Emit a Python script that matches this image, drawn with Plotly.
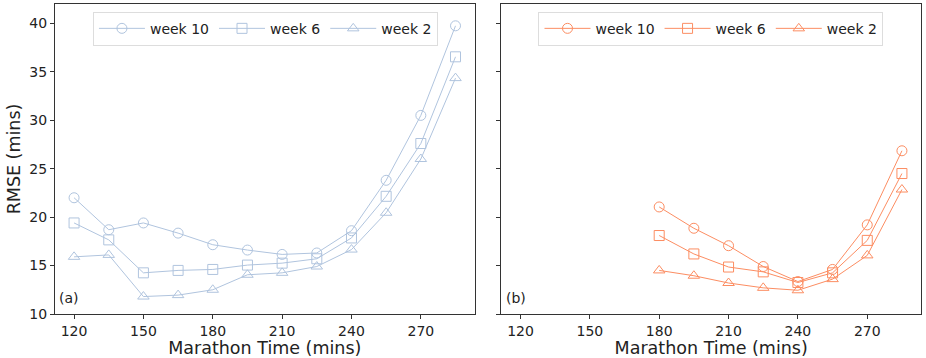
import plotly.graph_objects as go
from plotly.subplots import make_subplots

x_a = [120, 135, 150, 165, 180, 195, 210, 225, 240, 255, 270, 285]
a_week10 = [22.0, 18.7, 19.4, 18.35, 17.15, 16.6, 16.15, 16.3, 18.6, 23.8, 30.5, 39.75]
a_week6 = [19.4, 17.65, 14.25, 14.5, 14.6, 15.05, 15.25, 15.7, 17.85, 22.15, 27.6, 36.55]
a_week2 = [15.9, 16.1, 11.8, 11.95, 12.5, 14.05, 14.25, 14.9, 16.65, 20.45, 26.0, 34.35]

x_b = [180, 195, 210, 225, 240, 255, 270, 285]
b_week10 = [21.05, 18.85, 17.05, 14.9, 13.35, 14.6, 19.2, 26.85]
b_week6 = [18.1, 16.2, 14.85, 14.35, 13.25, 14.25, 17.6, 24.5]
b_week2 = [14.5, 13.95, 13.2, 12.7, 12.45, 13.6, 16.05, 22.85]

series_names = ["week 10", "week 6", "week 2"]
x_ticks = [120, 150, 180, 210, 240, 270]
y_ticks = [10, 15, 20, 25, 30, 35, 40]

blue = "#b0c4de"
orange = "#fc8d62"
symbols = ["circle-open", "square-open", "triangle-up-open"]
font = "DejaVu Sans"

fig = make_subplots(rows=1, cols=2, shared_yaxes=False, horizontal_spacing=0.031)

for name, ys, sym in zip(series_names, [a_week10, a_week6, a_week2], symbols):
    fig.add_trace(go.Scatter(x=x_a, y=ys, name=name, mode="lines+markers",
                             line=dict(color=blue, width=1),
                             marker=dict(symbol=sym, size=10, color=blue, line=dict(width=1, color=blue)),
                             legend="legend"), row=1, col=1)
for name, ys, sym in zip(series_names, [b_week10, b_week6, b_week2], symbols):
    fig.add_trace(go.Scatter(x=x_b, y=ys, name=name, mode="lines+markers",
                             line=dict(color=orange, width=1),
                             marker=dict(symbol=sym, size=10, color=orange, line=dict(width=1, color=orange)),
                             legend="legend2"), row=1, col=2)

axcommon = dict(showline=True, linecolor="#333333", linewidth=1, mirror=True, ticks="outside",
                ticklen=4, tickcolor="#333333", showgrid=False, zeroline=False,
                tickfont=dict(family=font, size=14, color="#222222"))
fig.update_xaxes(range=[111.75, 293.25], tickvals=x_ticks,
                 title=dict(text="Marathon Time (mins)", font=dict(family=font, size=17.5, color="#222222"), standoff=0),
                 **axcommon)
fig.update_yaxes(range=[10, 42], tickvals=y_ticks, **axcommon)
fig.update_yaxes(title=dict(text="RMSE (mins)", font=dict(family=font, size=17.5, color="#222222"), standoff=4), row=1, col=1)
fig.update_yaxes(showticklabels=False, row=1, col=2)

legcommon = dict(orientation="h", xanchor="center", yanchor="top", y=0.975,
                 bordercolor="#dddddd", borderwidth=1, bgcolor="rgba(255,255,255,0.8)",
                 font=dict(family=font, size=14, color="#222222"), itemwidth=46)
fig.update_layout(
    width=926, height=358,
    margin=dict(l=55, r=5, t=4, b=44),
    plot_bgcolor="white", paper_bgcolor="white",
    legend=dict(x=0.243, **legcommon),
    legend2=dict(x=0.7575, **legcommon),
    font=dict(family=font),
)
fig.add_annotation(text="(a)", xref="x domain", yref="y domain", x=0.005, y=0.02,
                   xanchor="left", yanchor="bottom", showarrow=False,
                   font=dict(family=font, size=14, color="#222222"))
fig.add_annotation(text="(b)", xref="x2 domain", yref="y2 domain", x=0.005, y=0.02,
                   xanchor="left", yanchor="bottom", showarrow=False,
                   font=dict(family=font, size=14, color="#222222"))

fig.write_html("out.html", config={"displayModeBar": False},
               post_script="document.body.style.margin='0';document.body.style.padding='0';")
